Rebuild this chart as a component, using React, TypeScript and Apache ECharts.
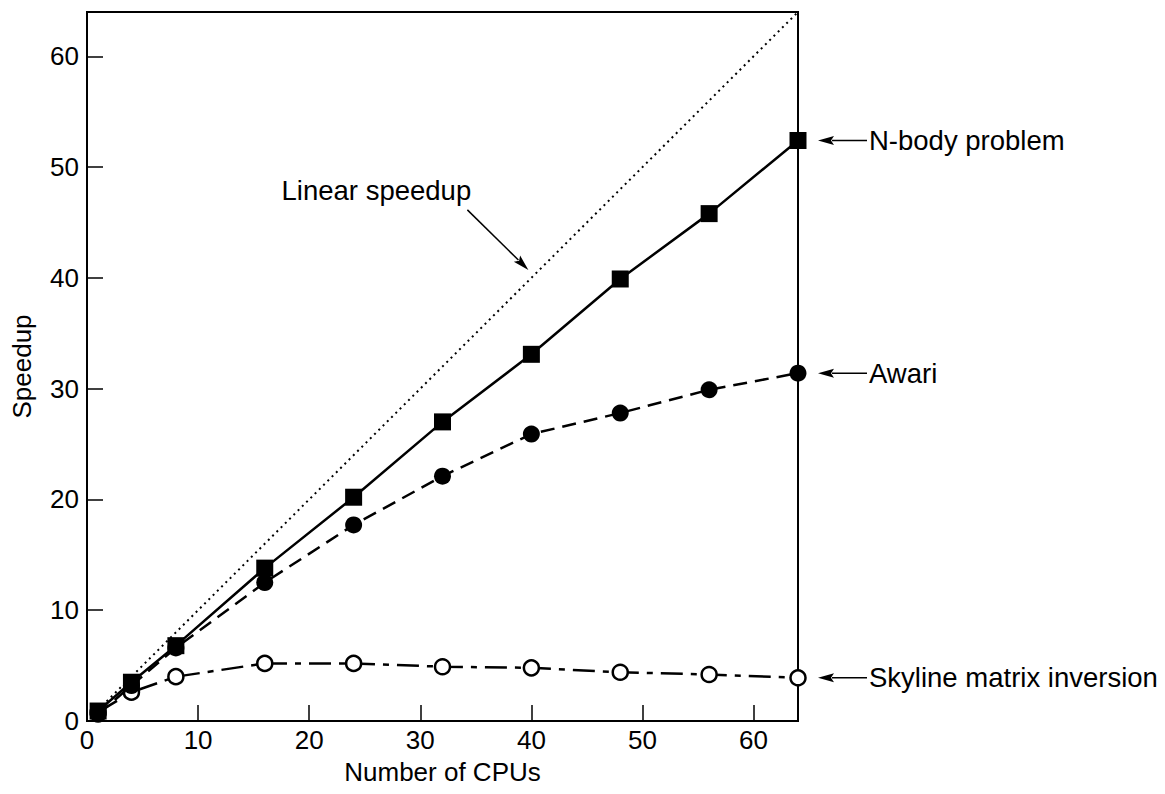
import React, { useEffect, useRef } from "react";
import * as echarts from "echarts";

const cpus = [1, 4, 8, 16, 24, 32, 40, 48, 56, 64];
const nbody = [0.9, 3.5, 6.8, 13.8, 20.2, 27.0, 33.1, 39.9, 45.8, 52.4];
const awari = [0.6, 3.2, 6.6, 12.5, 17.7, 22.1, 25.9, 27.8, 29.9, 31.4];
const skyline = [0.8, 2.6, 4.0, 5.2, 5.2, 4.9, 4.8, 4.4, 4.2, 3.9];
const linearX = [1, 64];
const linearY = [1, 64];
const seriesNames = ["N-body problem", "Awari", "Skyline matrix inversion"];
const linearLabel = "Linear speedup";
const xName = "Number of CPUs";
const yName = "Speedup";

const FONT = '"Liberation Sans", Arial, Helvetica, sans-serif';
const FS = 26;
const AFS = 27.5;

function pair(xs: number[], ys: number[]) {
  return xs.map((x, i) => [x, ys[i]]);
}

function arrow(tip: number[], tail: number[]) {
  const dx = tail[0] - tip[0];
  const dy = tail[1] - tip[1];
  const len = Math.sqrt(dx * dx + dy * dy);
  const ux = dx / len, uy = dy / len;
  const hl = 16, hw = 4.5;
  const bx = tip[0] + ux * hl, by = tip[1] + uy * hl;
  return [
    {
      type: "line",
      shape: { x1: bx - ux * 2, y1: by - uy * 2, x2: tail[0], y2: tail[1] },
      style: { stroke: "#000", lineWidth: 1.5 },
    },
    {
      type: "polygon",
      shape: {
        points: [
          [tip[0], tip[1]],
          [bx - uy * hw, by + ux * hw],
          [bx - ux * 3, by - uy * 3],
          [bx + uy * hw, by - ux * hw],
        ],
      },
      style: { fill: "#000" },
    },
  ];
}

export default function App() {
  const ref = useRef<HTMLDivElement>(null);
  useEffect(() => {
    if (!ref.current) return;
    const chart = echarts.init(ref.current, null, { renderer: "svg" });
    const axisCommon = {
      type: "value",
      min: 0,
      max: 64,
      interval: 10,
      splitLine: { show: false },
      axisLine: { show: true, lineStyle: { color: "#000", width: 2 } },
      axisTick: { show: true, inside: true, length: 16, lineStyle: { color: "#000", width: 1.5 } },
      nameTextStyle: { color: "#000", fontSize: FS, fontFamily: FONT },
    };
    chart.setOption({
      animation: false,
      backgroundColor: "#fff",
      grid: {
        left: 87,
        right: 367,
        top: 12,
        bottom: 73,
        show: true,
        borderColor: "#000",
        borderWidth: 2,
        containLabel: false,
      },
      xAxis: {
        ...axisCommon,
        name: xName,
        nameLocation: "middle",
        nameGap: 38,
        axisLabel: { color: "#000", fontSize: FS, fontFamily: FONT, margin: 6, showMaxLabel: false },
      },
      yAxis: {
        ...axisCommon,
        name: yName,
        nameLocation: "middle",
        nameGap: 52,
        axisLabel: { color: "#000", fontSize: FS, fontFamily: FONT, margin: 8, showMaxLabel: false },
      },
      series: [
        {
          type: "line",
          name: linearLabel,
          data: pair(linearX, linearY),
          symbol: "none",
          lineStyle: { color: "#000", width: 2, type: [2, 4] },
          z: 1,
        },
        {
          type: "line",
          name: seriesNames[2],
          data: pair(cpus, skyline),
          symbol: "circle",
          symbolSize: 15,
          lineStyle: { color: "#000", width: 2.5, type: [22, 8, 6, 8] },
          itemStyle: { color: "#fff", borderColor: "#000", borderWidth: 2.5 },
          z: 2,
        },
        {
          type: "line",
          name: seriesNames[1],
          data: pair(cpus, awari),
          symbol: "circle",
          symbolSize: 17,
          lineStyle: { color: "#000", width: 2.5, type: [14, 8] },
          itemStyle: { color: "#000" },
          z: 3,
        },
        {
          type: "line",
          name: seriesNames[0],
          data: pair(cpus, nbody),
          symbol: "rect",
          symbolSize: 17,
          lineStyle: { color: "#000", width: 2.5, type: "solid" },
          itemStyle: { color: "#000" },
          z: 4,
        },
      ],
    });

    const ends = [nbody, awari, skyline];
    const graphics: any[] = [];
    ends.forEach((arr, i) => {
      const p = chart.convertToPixel({ gridIndex: 0 }, [cpus[cpus.length - 1], arr[arr.length - 1]]) as number[];
      const tip = [p[0] + 20, p[1]];
      const tail = [p[0] + 69, p[1]];
      graphics.push(...arrow(tip, tail));
      graphics.push({
        type: "text",
        x: p[0] + 71,
        y: p[1],
        style: { text: seriesNames[i], fill: "#000", font: `${AFS}px ${FONT}`, textAlign: "left", textVerticalAlign: "middle" },
      });
    });
    const lp = chart.convertToPixel({ gridIndex: 0 }, [40, 40]) as number[];
    const ltip = [lp[0] - 3, lp[1] - 8];
    const ltail = [ltip[0] - 61, ltip[1] - 60];
    graphics.push(...arrow(ltip, ltail));
    graphics.push({
      type: "text",
      x: ltip[0] - 152,
      y: ltip[1] - 79,
      style: { text: linearLabel, fill: "#000", font: `${AFS}px ${FONT}`, textAlign: "center", textVerticalAlign: "middle" },
    });
    chart.setOption({ graphic: graphics });

    return () => chart.dispose();
  }, []);
  return <div ref={ref} style={{ position: "fixed", left: 0, top: 0, width: 1165, height: 794 }} />;
}
